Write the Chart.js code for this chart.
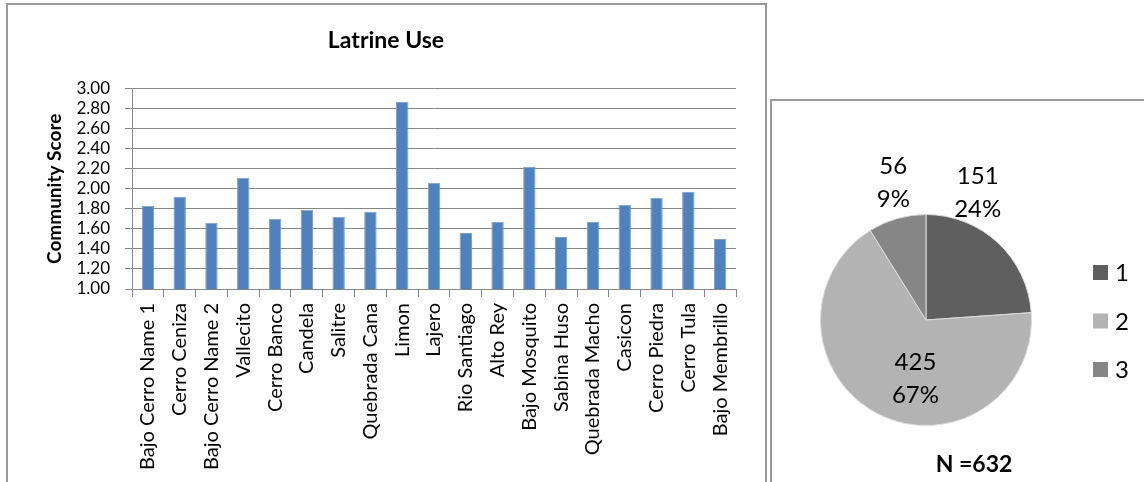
<!DOCTYPE html>
<html>
<head>
<meta charset="utf-8">
<title>Latrine Use</title>
<script src="https://cdn.jsdelivr.net/npm/chart.js@4.4.1/dist/chart.umd.min.js"></script>
<style>
  html, body { margin: 0; padding: 0; background: #fff; }
  body { width: 1144px; height: 482px; position: relative; overflow: hidden; font-family: Lato, sans-serif; }
  .frame { position: absolute; border: 2px solid #9a9a9a; box-sizing: border-box; }
  #frameBar { left: 6px; top: 3px; width: 761px; height: 520px; }
  #framePie { left: 770px; top: 99px; width: 420px; height: 420px; }
  #barWrap { position: absolute; left: 0; top: 0; width: 770px; height: 482px; }
  #pieWrap { position: absolute; left: 773px; top: 102px; width: 371px; height: 380px; }
</style>
</head>
<body>
<div class="frame" id="frameBar"></div>
<div class="frame" id="framePie"></div>
<div id="barWrap"><canvas id="bar"></canvas></div>
<div id="pieWrap"><canvas id="pie"></canvas></div>
<script>
// Community latrine-use scores
const communities = [
  'Bajo Cerro Name 1', 'Cerro Ceniza', 'Bajo Cerro Name 2', 'Vallecito', 'Cerro Banco',
  'Candela', 'Salitre', 'Quebrada Cana', 'Limon', 'Lajero', 'Rio Santiago', 'Alto Rey',
  'Bajo Mosquito', 'Sabina Huso', 'Quebrada Macho', 'Casicon', 'Cerro Piedra', 'Cerro Tula',
  'Bajo Membrillo'
];
const scores = [
  1.83, 1.92, 1.66, 2.11, 1.70, 1.79, 1.72, 1.77, 2.87, 2.06,
  1.56, 1.67, 2.22, 1.52, 1.67, 1.84, 1.91, 1.97, 1.50
];
const scoreTicks = [1.00, 1.20, 1.40, 1.60, 1.80, 2.00, 2.20, 2.40, 2.60, 2.80, 3.00];

// Distribution of household responses
const responseLabels = ['1', '2', '3'];
const responseCounts = [151, 425, 56];
const responseColors = ['#5f5f5f', '#b3b3b3', '#868686'];

const FONT = 'Lato, "Open Sans", sans-serif';
const GRID = '#878787';

new Chart(document.getElementById('bar'), {
  type: 'bar',
  data: {
    labels: communities,
    datasets: [{
      data: scores,
      backgroundColor: '#4f81bd',
      borderColor: '#7ba0cf',
      borderWidth: { top: 1, left: 1, right: 1, bottom: 0 },
      borderSkipped: false,
      barPercentage: 0.39,
      categoryPercentage: 1.0
    }]
  },
  options: {
    responsive: true,
    maintainAspectRatio: false,
    animation: false,
    layout: { padding: { left: 36, right: 34, top: 0, bottom: 0 } },
    plugins: {
      legend: { display: false },
      tooltip: { enabled: false },
      title: {
        display: true,
        text: 'Latrine Use',
        color: '#000',
        font: { family: FONT, size: 23, weight: 'bold', lineHeight: 1.2 },
        padding: { top: 27, bottom: 34 }
      }
    },
    scales: {
      x: {
        grid: { offset: true, drawOnChartArea: false, drawTicks: true, tickLength: 8, color: GRID, lineWidth: 1 },
        border: { color: GRID, width: 1 },
        ticks: {
          autoSkip: false, minRotation: 90, maxRotation: 90, padding: 6,
          color: '#000', font: { family: FONT, size: 20 }
        },
        afterFit: s => { s.height = 193; }
      },
      y: {
        min: 1, max: 3,
        afterBuildTicks: s => { s.ticks = scoreTicks.map(v => ({ value: v })); },
        grid: { color: GRID, lineWidth: 1, drawTicks: true, tickLength: 7 },
        border: { color: GRID, width: 1 },
        ticks: {
          autoSkip: false,
          padding: 15, color: '#000', font: { family: FONT, size: 17, lineHeight: 1 },
          callback: v => Number(v).toFixed(2)
        },
        title: {
          display: true, text: 'Community Score', color: '#000',
          font: { family: FONT, size: 19, weight: 'bold', lineHeight: 1.2 },
          padding: { top: 7.6, bottom: 0 }
        },
        afterFit: s => { s.width = 96; }
      }
    }
  }
});

// Value / percentage labels, legend and sample size for the pie
const pieDecor = {
  id: 'pieDecor',
  afterDraw(chart, args, opts) {
    const ctx = chart.ctx;
    const ds = chart.data.datasets[0];
    const total = ds.data.reduce((a, b) => a + b, 0);
    const meta = chart.getDatasetMeta(0);
    ctx.save();
    ctx.fillStyle = '#000';
    ctx.textAlign = 'center';
    ctx.textBaseline = 'middle';
    ctx.font = '24px ' + FONT;
    meta.data.forEach((arc, i) => {
      const r = arc.outerRadius;
      const off = opts.labelOffsets[i];
      const cx = arc.x + off[0] * r;
      const cy = arc.y + off[1] * r;
      const v = ds.data[i];
      ctx.fillText(String(v), cx, cy - opts.lineGap / 2);
      ctx.fillText(Math.round(v / total * 100) + '%', cx, cy + opts.lineGap / 2);
    });
    // legend
    const lg = opts.legend;
    ctx.textAlign = 'left';
    chart.data.labels.forEach((lab, i) => {
      const y = lg.y + i * lg.gap;
      ctx.fillStyle = ds.backgroundColor[i];
      ctx.fillRect(lg.x, y - lg.box / 2, lg.box, lg.box);
      ctx.fillStyle = '#000';
      ctx.fillText(lab, lg.x + lg.box + 7, y + 1);
    });
    // sample size
    ctx.textAlign = 'center';
    ctx.font = 'bold 23px ' + FONT;
    ctx.fillText('N =' + total, opts.nPos.x, opts.nPos.y);
    ctx.restore();
  }
};

new Chart(document.getElementById('pie'), {
  type: 'pie',
  data: {
    labels: responseLabels,
    datasets: [{
      data: responseCounts,
      backgroundColor: responseColors,
      borderColor: '#dcdcdc',
      borderWidth: 1
    }]
  },
  options: {
    responsive: true,
    maintainAspectRatio: false,
    animation: false,
    layout: { padding: { left: 47, right: 112, top: 112, bottom: 56 } },
    plugins: {
      legend: { display: false },
      tooltip: { enabled: false },
      pieDecor: {
        labelOffsets: [[0.49, -1.21], [-0.10, 0.56], [-0.31, -1.30]],
        lineGap: 33,
        legend: { x: 320, y: 170.5, gap: 48.5, box: 15 },
        nPos: { x: 201, y: 363 }
      }
    }
  },
  plugins: [pieDecor]
});
</script>
</body>
</html>
